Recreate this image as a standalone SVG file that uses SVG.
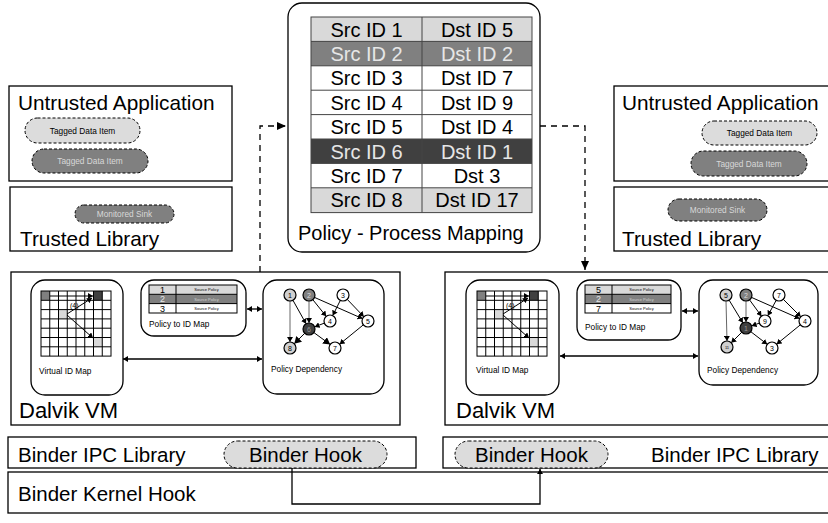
<svg xmlns="http://www.w3.org/2000/svg" width="828" height="523" viewBox="0 0 828 523">
<style>
text{font-family:"Liberation Sans",Arial,sans-serif;fill:#000}
.box{fill:#fff;stroke:#000;stroke-width:1.3}
.rbox{fill:#fff;stroke:#000;stroke-width:1.3}
.big{font-size:20.8px}
.tb{font-size:20px}
.mid{font-size:20.5px}
.sm{font-size:8.3px}
.tiny{font-size:4px}
.pill{stroke:#000;stroke-width:1;stroke-dasharray:3 2}
.cell{stroke:#444;stroke-width:1}
.g{stroke:#000;stroke-width:1;fill:none}
.dash{stroke:#000;stroke-width:1.3;fill:none;stroke-dasharray:6 5}
.conn{stroke:#000;stroke-width:1.3;fill:none}
.nd{stroke:#000;stroke-width:1.2}
.nt{font-size:7px;text-anchor:middle}
.c{text-anchor:middle}
</style>
<defs>
<marker id="ah" markerWidth="10" markerHeight="10" refX="9" refY="5" orient="auto" markerUnits="userSpaceOnUse"><path d="M0,1 L9,5 L0,9 Z" fill="#000"/></marker>
<marker id="ahs" markerWidth="6" markerHeight="6" refX="5" refY="3" orient="auto" markerUnits="userSpaceOnUse"><path d="M0,0 L5,3 L0,6 Z" fill="#000"/></marker>
<marker id="ahsr" markerWidth="6" markerHeight="6" refX="0" refY="3" orient="auto" markerUnits="userSpaceOnUse"><path d="M5,0 L0,3 L5,6 Z" fill="#000"/></marker>
<marker id="ahg" markerWidth="6" markerHeight="6" refX="5" refY="3" orient="auto" markerUnits="userSpaceOnUse"><path d="M0,0 L5,3 L0,6 Z" fill="#000"/></marker>
<marker id="ahb" markerWidth="8" markerHeight="8" refX="7" refY="4" orient="auto" markerUnits="userSpaceOnUse"><path d="M0,0 L7,4 L0,8 Z" fill="#000"/></marker>
</defs>

<!-- Left top -->
<g id="untrusted-left">
<rect class="box" x="9" y="86" width="223" height="95"/>
<text class="big" x="18" y="110">Untrusted Application</text>
<rect class="pill" x="25" y="118" width="115" height="25" rx="12.5" fill="#dcdcdc"/>
<text class="sm c" x="82.5" y="133.5">Tagged Data Item</text>
<rect class="pill" x="32" y="149" width="116" height="24" rx="12" fill="#808080"/>
<text class="sm c" x="90" y="164" style="fill:#d8d8d8">Tagged Data Item</text>
</g>
<g id="trusted-left">
<rect class="box" x="10" y="187" width="222" height="64"/>
<rect class="pill" x="75" y="205" width="99" height="18" rx="9" fill="#808080"/>
<text class="sm c" x="124.5" y="216.5" style="fill:#d8d8d8">Monitored Sink</text>
<text class="big" x="20" y="246">Trusted Library</text>
</g>

<!-- Policy table -->
<g id="policy-mapping">
<rect class="rbox" x="288" y="3" width="252" height="249" rx="14"/>
<rect x="311" y="17" width="221" height="24.4" fill="#d9d9d9"/>
<rect x="311" y="41.4" width="221" height="24.4" fill="#808080"/>
<rect x="311" y="139" width="221" height="24.4" fill="#404040"/>
<rect x="311" y="188" width="221" height="24.6" fill="#d9d9d9"/>
<g class="cell" fill="none">
<rect x="311" y="17" width="221" height="195.6"/>
<line x1="422" y1="17" x2="422" y2="212.6"/>
<line x1="311" y1="41.4" x2="532" y2="41.4"/>
<line x1="311" y1="65.8" x2="532" y2="65.8"/>
<line x1="311" y1="90.2" x2="532" y2="90.2"/>
<line x1="311" y1="114.6" x2="532" y2="114.6"/>
<line x1="311" y1="139" x2="532" y2="139"/>
<line x1="311" y1="163.4" x2="532" y2="163.4"/>
<line x1="311" y1="187.8" x2="532" y2="187.8"/>
</g>
<g class="tb c">
<text x="366.5" y="36.5">Src ID 1</text><text x="477" y="36.5">Dst ID 5</text>
<text x="366.5" y="60.9" style="fill:#e6e6e6">Src ID 2</text><text x="477" y="60.9" style="fill:#e6e6e6">Dst ID 2</text>
<text x="366.5" y="85.3">Src ID 3</text><text x="477" y="85.3">Dst ID 7</text>
<text x="366.5" y="109.7">Src ID 4</text><text x="477" y="109.7">Dst ID 9</text>
<text x="366.5" y="134.1">Src ID 5</text><text x="477" y="134.1">Dst ID 4</text>
<text x="366.5" y="158.5" style="fill:#e6e6e6">Src ID 6</text><text x="477" y="158.5" style="fill:#e6e6e6">Dst ID 1</text>
<text x="366.5" y="182.9">Src ID 7</text><text x="477" y="182.9">Dst 3</text>
<text x="366.5" y="207.3">Src ID 8</text><text x="477" y="207.3">Dst ID 17</text>
</g>
<text class="tb" x="298" y="240">Policy - Process Mapping</text>
</g>

<!-- Right top -->
<g id="untrusted-right">
<rect class="box" x="614" y="86" width="230" height="95"/>
<text class="big" x="622" y="110">Untrusted Application</text>
<rect class="pill" x="702" y="121" width="115" height="24" rx="12" fill="#dcdcdc"/>
<text class="sm c" x="759.5" y="136">Tagged Data Item</text>
<rect class="pill" x="691" y="151" width="116" height="25" rx="12.5" fill="#808080"/>
<text class="sm c" x="749" y="166.5" style="fill:#d8d8d8">Tagged Data Item</text>
</g>
<g id="trusted-right">
<rect class="box" x="614" y="187" width="230" height="64"/>
<rect class="pill" x="668" y="199" width="99" height="22" rx="11" fill="#808080"/>
<text class="sm c" x="717.5" y="213" style="fill:#d8d8d8">Monitored Sink</text>
<text class="big" x="622" y="246">Trusted Library</text>
</g>

<!-- Left Dalvik -->
<g id="dalvik-left">
<rect class="box" x="11" y="272" width="389" height="153"/>
<text style="font-size:22px" x="19" y="418">Dalvik VM</text>
<rect class="rbox" x="31" y="280" width="92" height="115" rx="14"/>
<rect x="41" y="291" width="8.75" height="9.3" fill="#808080"/>
<rect x="93.5" y="291" width="8.75" height="9.3" fill="#404040"/>
<rect x="58.5" y="309.6" width="8.75" height="9.3" fill="#d9d9d9"/>
<rect x="93.5" y="337.5" width="8.75" height="9.3" fill="#d9d9d9"/>
<g class="g">
<rect x="41" y="291" width="70" height="65.1"/>
<path d="M49.75,291V356.1M58.5,291V356.1M67.25,291V356.1M76,291V356.1M84.75,291V356.1M93.5,291V356.1M102.25,291V356.1"/>
<path d="M41,300.3H111M41,309.6H111M41,318.9H111M41,328.2H111M41,337.5H111M41,346.8H111"/>
<line x1="50" y1="296" x2="93" y2="296" marker-end="url(#ahs)"/>
<line x1="67" y1="314" x2="92" y2="298" marker-end="url(#ahs)"/>
<line x1="67" y1="315" x2="93" y2="338" marker-end="url(#ahs)"/>
</g>
<text x="70" y="308" style="font-size:7px">(4)</text>
<text class="sm" x="39" y="374">Virtual ID Map</text>
<rect class="rbox" x="141" y="280" width="105" height="56" rx="13"/>
<rect x="149" y="285" width="88" height="9.3" fill="#d9d9d9"/>
<rect x="149" y="294.3" width="88" height="9.3" fill="#808080"/>
<g class="g"><rect x="149" y="285" width="88" height="28"/><path d="M176,285V313M149,294.3H237M149,303.6H237"/></g>
<text class="c" x="162.5" y="293" style="font-size:9px">1</text>
<text class="c" x="162.5" y="302.3" style="font-size:9px;fill:#e6e6e6">2</text>
<text class="c" x="162.5" y="311.6" style="font-size:9px">3</text>
<text class="tiny c" x="206.5" y="291.3">Source Policy</text>
<text class="tiny c" x="206.5" y="300.6" style="fill:#d0d0d0">Source Policy</text>
<text class="tiny c" x="206.5" y="309.9">Source Policy</text>
<text class="sm" x="149" y="327">Policy to ID Map</text>
<rect class="rbox" x="263" y="280" width="121" height="114" rx="14"/>
<text class="sm" x="271" y="372">Policy Dependency</text>
<g class="g">
<line x1="290" y1="301" x2="290" y2="342" stroke="#666" marker-end="url(#ahg)"/>
<line x1="292.9" y1="300.2" x2="306.1" y2="323.8" marker-end="url(#ahs)"/>
<line x1="309" y1="301" x2="309" y2="323" stroke="#666" marker-end="url(#ahg)"/>
<line x1="312.8" y1="299.7" x2="326.2" y2="316.3" marker-end="url(#ahs)"/>
<line x1="314.5" y1="297.4" x2="362.5" y2="318.6" marker-end="url(#ahs)"/>
<line x1="340.3" y1="300.4" x2="332.7" y2="315.6" marker-end="url(#ahs)"/>
<line x1="347.2" y1="299.3" x2="363.8" y2="316.7" marker-end="url(#ahs)"/>
<line x1="324.4" y1="323.1" x2="314.6" y2="326.9" marker-end="url(#ahs)"/>
<line x1="304.8" y1="333.2" x2="294.2" y2="343.8" marker-end="url(#ahb)"/>
<line x1="313.8" y1="332.5" x2="330.2" y2="344.5" marker-end="url(#ahb)"/>
<line x1="363.4" y1="324.8" x2="339.6" y2="344.2" marker-end="url(#ahs)"/>
</g>
<circle class="nd" cx="290" cy="295" r="6" fill="#d0d0d0"/><text class="nt" x="290" y="297.5">1</text>
<circle class="nd" cx="309" cy="295" r="6" fill="#808080"/><text class="nt" x="309" y="297.5" style="fill:#ddd">2</text>
<circle class="nd" cx="343" cy="295" r="6" fill="#fff"/><text class="nt" x="343" y="297.5">3</text>
<circle class="nd" cx="330" cy="321" r="6" fill="#fff"/><text class="nt" x="330" y="323.5">4</text>
<circle class="nd" cx="368" cy="321" r="6" fill="#fff"/><text class="nt" x="368" y="323.5">5</text>
<circle class="nd" cx="309" cy="329" r="6" fill="#404040"/><text class="nt" x="309" y="331.5" style="fill:#999">6</text>
<circle class="nd" cx="290" cy="348" r="6" fill="#d0d0d0"/><text class="nt" x="290" y="350.5">8</text>
<circle class="nd" cx="335" cy="348" r="6" fill="#fff"/><text class="nt" x="335" y="350.5">7</text>
</g>

<!-- Right Dalvik -->
<g id="dalvik-right">
<rect class="box" x="445" y="272" width="400" height="153"/>
<text style="font-size:22px" x="456" y="418">Dalvik VM</text>
<rect class="rbox" x="466" y="280" width="93" height="115" rx="14"/>
<rect x="477" y="291" width="8.75" height="9.3" fill="#808080"/>
<rect x="529.5" y="291" width="8.75" height="9.3" fill="#404040"/>
<rect x="494.5" y="309.6" width="8.75" height="9.3" fill="#d9d9d9"/>
<rect x="529.5" y="337.5" width="8.75" height="9.3" fill="#d9d9d9"/>
<g class="g">
<rect x="477" y="291" width="70" height="65.1"/>
<path d="M485.75,291V356.1M494.5,291V356.1M503.25,291V356.1M512,291V356.1M520.75,291V356.1M529.5,291V356.1M538.25,291V356.1"/>
<path d="M477,300.3H547M477,309.6H547M477,318.9H547M477,328.2H547M477,337.5H547M477,346.8H547"/>
<line x1="486" y1="296" x2="529" y2="296" marker-end="url(#ahs)"/>
<line x1="503" y1="314" x2="528" y2="298" marker-end="url(#ahs)"/>
<line x1="503" y1="315" x2="529" y2="338" marker-end="url(#ahs)"/>
</g>
<text x="506" y="308" style="font-size:7px">(4)</text>
<text class="sm" x="476" y="373">Virtual ID Map</text>
<rect class="rbox" x="577" y="280" width="104" height="60" rx="13"/>
<rect x="585" y="285" width="86" height="9.3" fill="#d9d9d9"/>
<rect x="585" y="294.3" width="86" height="9.3" fill="#808080"/>
<g class="g"><rect x="585" y="285" width="86" height="28"/><path d="M612,285V313M585,294.3H671M585,303.6H671"/></g>
<text class="c" x="598.5" y="293" style="font-size:9px">5</text>
<text class="c" x="598.5" y="302.3" style="font-size:9px;fill:#e6e6e6">2</text>
<text class="c" x="598.5" y="311.6" style="font-size:9px">7</text>
<text class="tiny c" x="641.5" y="291.3">Source Policy</text>
<text class="tiny c" x="641.5" y="300.6" style="fill:#d0d0d0">Source Policy</text>
<text class="tiny c" x="641.5" y="309.9">Source Policy</text>
<text class="sm" x="585" y="330">Policy to ID Map</text>
<rect class="rbox" x="699" y="280" width="119" height="105" rx="14"/>
<text class="sm" x="707" y="373">Policy Dependency</text>
<g class="g">
<line x1="726" y1="301" x2="727" y2="341" stroke="#666" marker-end="url(#ahg)"/>
<line x1="729.1" y1="300.1" x2="742.9" y2="322.9" marker-end="url(#ahs)"/>
<line x1="746" y1="301" x2="746" y2="322" stroke="#666" marker-end="url(#ahg)"/>
<line x1="749.5" y1="299.8" x2="761.5" y2="316.2" marker-end="url(#ahs)"/>
<line x1="751.5" y1="297.4" x2="799.5" y2="318.6" marker-end="url(#ahs)"/>
<line x1="776.2" y1="300.3" x2="767.8" y2="315.7" marker-end="url(#ahs)"/>
<line x1="783.2" y1="299.2" x2="800.8" y2="316.8" marker-end="url(#ahs)"/>
<line x1="759.4" y1="323.1" x2="751.6" y2="325.9" marker-end="url(#ahs)"/>
<line x1="741.8" y1="332.2" x2="731.2" y2="342.8" marker-end="url(#ahs)"/>
<line x1="750.8" y1="331.7" x2="767.2" y2="344.3" marker-end="url(#ahs)"/>
<line x1="800.4" y1="324.8" x2="776.6" y2="344.2" marker-end="url(#ahs)"/>
</g>
<circle class="nd" cx="726" cy="295" r="6" fill="#d0d0d0"/><text class="nt" x="726" y="297.5">5</text>
<circle class="nd" cx="746" cy="295" r="6" fill="#808080"/><text class="nt" x="746" y="297.5" style="fill:#ddd">2</text>
<circle class="nd" cx="779" cy="295" r="6" fill="#fff"/><text class="nt" x="779" y="297.5">7</text>
<circle class="nd" cx="765" cy="321" r="6" fill="#fff"/><text class="nt" x="765" y="323.5">9</text>
<circle class="nd" cx="805" cy="321" r="6" fill="#fff"/><text class="nt" x="805" y="323.5">4</text>
<circle class="nd" cx="746" cy="328" r="6" fill="#404040"/><text class="nt" x="746" y="330.5" style="fill:#999">1</text>
<circle class="nd" cx="727" cy="347" r="6" fill="#d0d0d0"/><text class="nt" x="727" y="349" style="font-size:4px">11</text>
<circle class="nd" cx="772" cy="348" r="6" fill="#fff"/><text class="nt" x="772" y="350.5">3</text>
</g>

<!-- Binder -->
<g id="binder-ipc-left">
<rect class="box" x="8" y="437" width="408" height="31"/>
<text class="mid" x="18" y="462">Binder IPC Library</text>
<rect class="pill" x="224" y="441" width="163" height="27" rx="13.5" fill="#dcdcdc"/>
<text class="mid c" x="305.5" y="462">Binder Hook</text>
</g>
<g id="binder-ipc-right">
<rect class="box" x="443" y="437" width="400" height="31"/>
<rect class="pill" x="455" y="441" width="153" height="27" rx="13.5" fill="#dcdcdc"/>
<text class="mid c" x="531.5" y="462">Binder Hook</text>
<text class="mid" x="651" y="462">Binder IPC Library</text>
</g>
<g id="binder-kernel">
<rect class="box" x="8" y="472" width="835" height="41"/>
<text class="mid" x="18" y="501">Binder Kernel Hook</text>
</g>

<!-- Connectors -->
<g id="connectors">
<path class="dash" d="M260,272V126H286" marker-end="url(#ah)"/>
<path class="dash" d="M540,126H585V270" marker-end="url(#ah)"/>
<line class="conn" x1="247" y1="309" x2="262" y2="309" marker-start="url(#ahsr)" marker-end="url(#ahs)"/>
<line class="conn" x1="123" y1="359" x2="262" y2="359" marker-start="url(#ahsr)" marker-end="url(#ahs)"/>
<line class="conn" x1="682" y1="311" x2="698" y2="311" marker-start="url(#ahsr)" marker-end="url(#ahs)"/>
<line class="conn" x1="560" y1="356" x2="698" y2="356" marker-start="url(#ahsr)" marker-end="url(#ahs)"/>
<path class="conn" d="M292,468V504H540V469" marker-end="url(#ahs)"/>
</g>
</svg>
